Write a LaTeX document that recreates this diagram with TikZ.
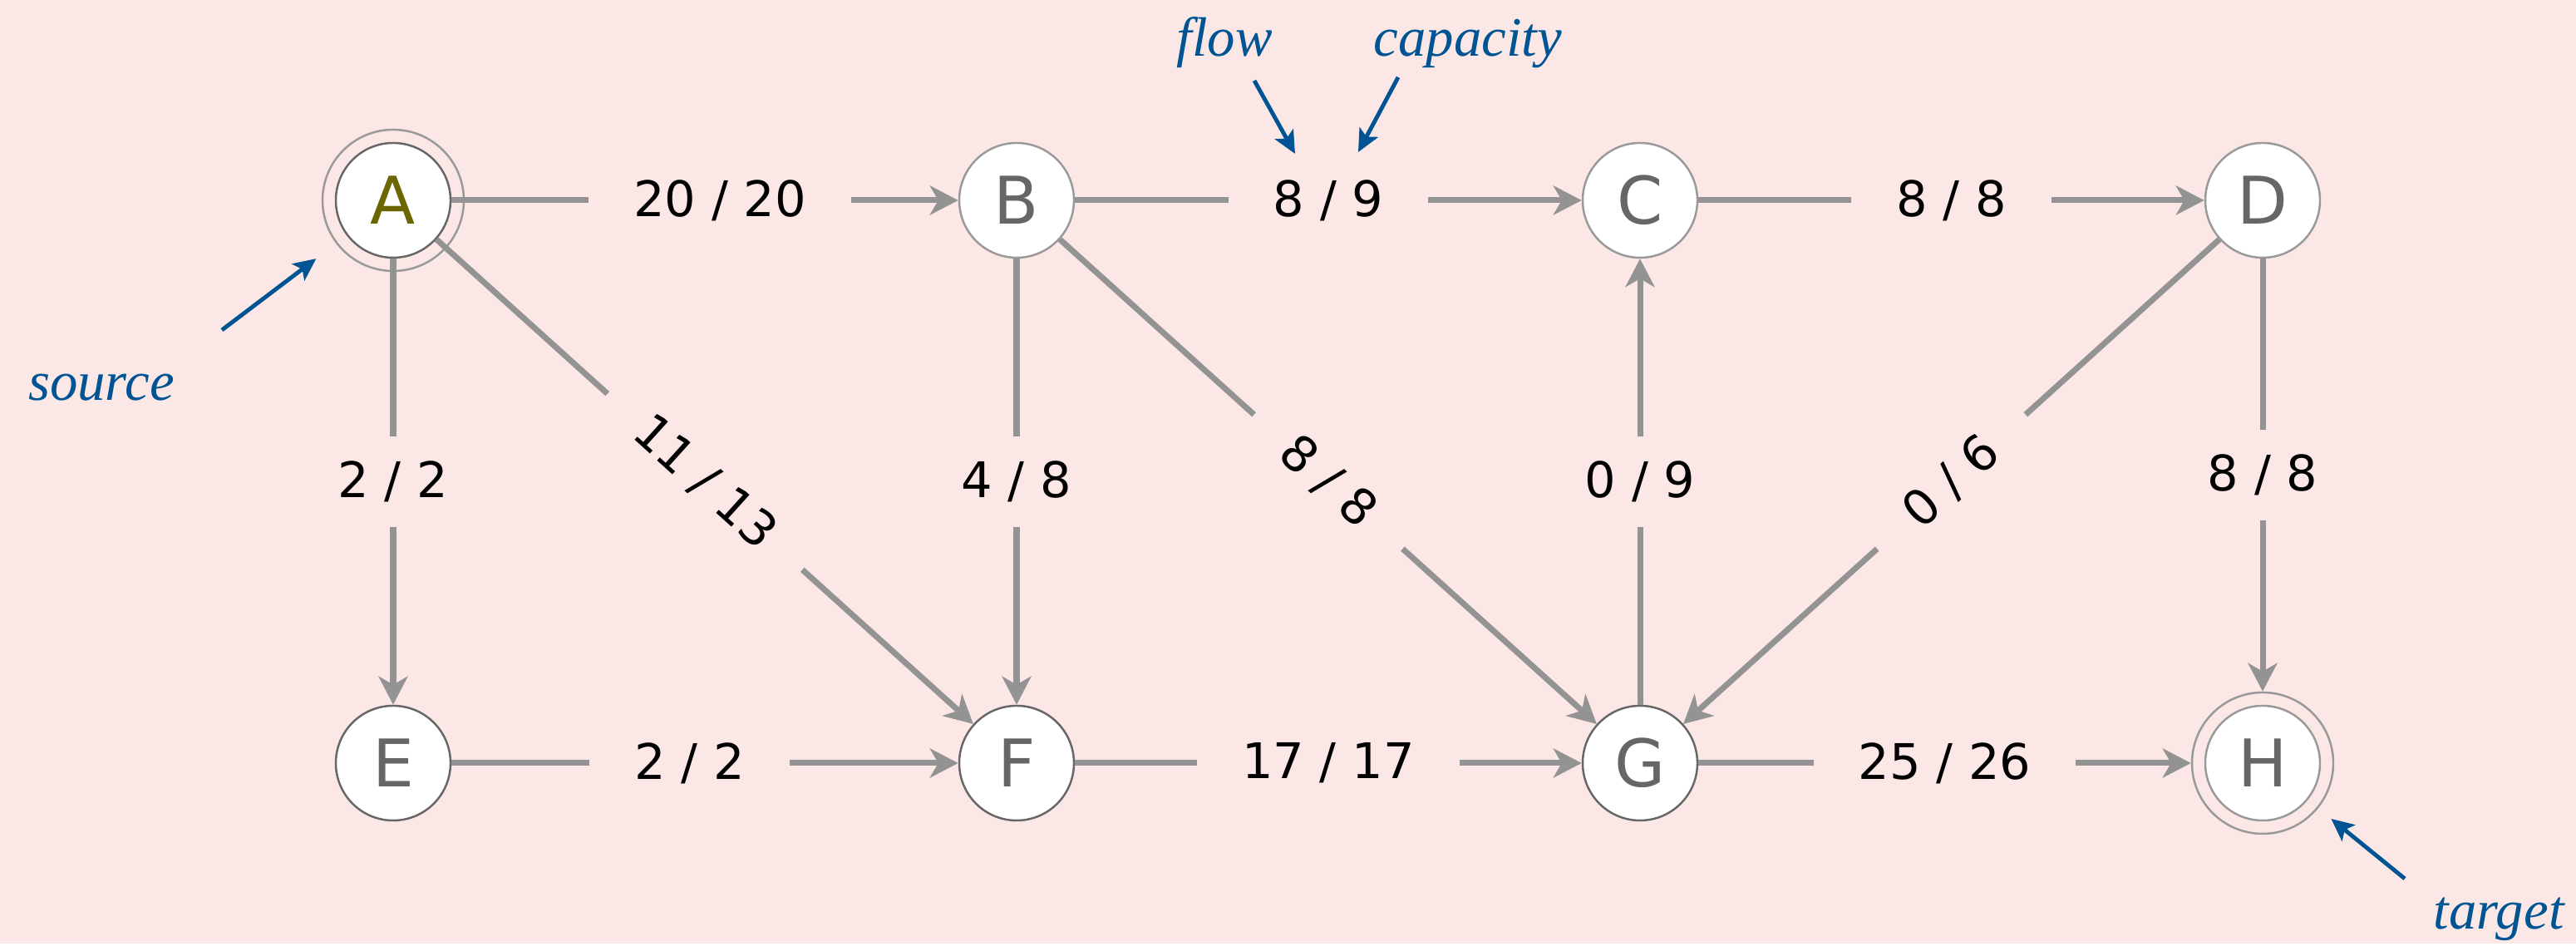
\documentclass[tikz,border=0pt]{standalone}
\usepackage{fontspec}
\setmainfont{DejaVu Sans}
\newfontfamily\notefont{Liberation Serif}
\usetikzlibrary{arrows.meta}

\definecolor{bgpink}{RGB}{251,232,230}
\definecolor{edgegray}{RGB}{147,147,147}
\definecolor{lightring}{RGB}{153,153,153}
\definecolor{darkring}{RGB}{102,102,102}
\definecolor{lettergray}{RGB}{102,102,102}
\definecolor{srcolive}{RGB}{107,102,0}
\definecolor{noteblue}{RGB}{0,84,147}

\tikzset{
	vertex/.style={circle, draw=lightring, line width=0.7pt, fill=white, minimum size=1.38cm, inner sep=0pt, text=lettergray, font=\fontsize{22.5}{26}\selectfont},
	cutvertex/.style={vertex, draw=darkring},
	ring/.style={circle, draw=lightring, line width=0.7pt, minimum size=1.70cm, inner sep=0pt},
	edge/.style={draw=edgegray, line width=2pt, -{Stealth[length=0.34cm, width=0.35cm, inset=0.1cm]}},
	flowlabel/.style={fill=bgpink, text=black, inner xsep=0.54cm, inner ysep=0.3cm, font=\fontsize{16.8}{20}\selectfont},
	note/.style={text=noteblue, font=\notefont\itshape\fontsize{19}{22}\selectfont},
	pointer/.style={draw=noteblue, line width=1.4pt, -{Stealth[length=0.27cm, width=0.25cm, inset=0.06cm]}}
}

\begin{document}
\begin{tikzpicture}
			\fill[bgpink] (0,0) rectangle (30.99,11.35);

			\def\yTOP{8.94};
			\def\yBOT{2.17};

			\begin{scope}
				\node[cutvertex, text=srcolive] (A) at (4.73,\yTOP) {A};
				\node[ring] (Aring) at (A) {};
				\foreach \n/\x in {B/12.23, C/19.73, D/27.22}
				{
					\node[vertex] (\n) at (\x,\yTOP) {\n};
				}
				\foreach \n/\x in {E/4.73, F/12.23, G/19.73}
				{
					\node[cutvertex] (\n) at (\x,\yBOT) {\n};
				}
				\node[vertex] (H) at (27.22,\yBOT) {H};
				\node[ring] (Hring) at (H) {};
			\end{scope}

			\begin{scope}
				\foreach \u/\v/\f/\c/\p in {A/B/20/20/0.53, B/C/8/9/0.5, C/D/8/8/0.5, E/F/2/2/0.47, F/G/17/17/0.5, G/Hring/25/26/0.5, A/E/2/2/0.5, B/F/4/8/0.5, G/C/0/9/0.5, D/Hring/8/8/0.5}
				{
					\draw[edge] (\u) -- node[flowlabel, pos=\p] {\f{} / \c} (\v);
				}
				\foreach \u/\v/\f/\c in {A/F/11/13, B/G/8/8, D/G/0/6}
				{
					\draw[edge] (\u) -- node[flowlabel, sloped] {\f{} / \c} (\v);
				}
			\end{scope}

			\begin{scope}
				\node[note, anchor=base] (source) at (1.22,6.53) {source};
				\node[note, anchor=base] (flow) at (14.73,10.67) {flow};
				\node[note, anchor=base] (capacity) at (17.66,10.67) {capacity};
				\node[note, anchor=base] (target) at (30.06,0.17) {target};

				\coordinate (sourceTail) at (2.67,7.38);
				\coordinate (flowTail) at (15.09,10.38);
				\coordinate (flowTip) at (15.58,9.50);
				\coordinate (capacityTail) at (16.82,10.42);
				\coordinate (capacityTip) at (16.34,9.52);
				\coordinate (targetTail) at (28.93,0.78);

				\draw[pointer, shorten >=0.3cm] (sourceTail) -- (Aring);
				\draw[pointer] (flowTail) -- (flowTip);
				\draw[pointer] (capacityTail) -- (capacityTip);
				\draw[pointer, shorten >=0.2cm] (targetTail) -- (Hring);
			\end{scope}
		\end{tikzpicture}
\end{document}
